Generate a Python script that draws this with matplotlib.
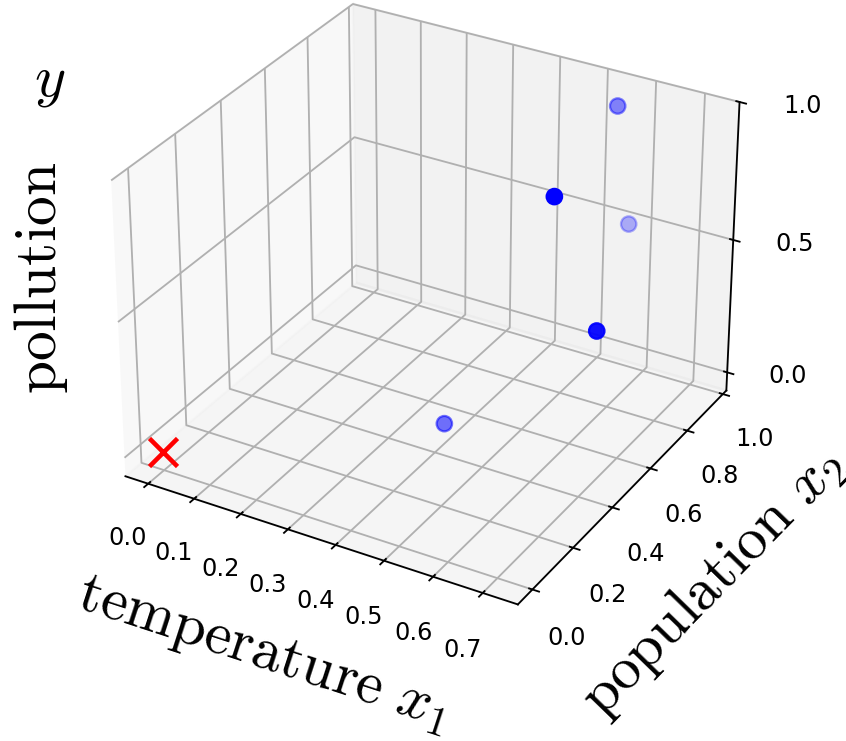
import numpy as np
import matplotlib
matplotlib.use("Agg")
import matplotlib.pyplot as plt

plt.rcParams["mathtext.fontset"] = "cm"

# data: temperature x1, population x2, pollution y
temperature = [0.42, 0.60, 0.53, 0.56, 0.71]
population = [0.40, 0.50, 1.00, 1.00, 0.45]
pollution = [0.05, 0.90, 0.89, 0.47, 0.51]

# query point
query_temperature = [0.0]
query_population = [0.0]
query_pollution = [0.0]

x_ticks = [0.0, 0.1, 0.2, 0.3, 0.4, 0.5, 0.6, 0.7]
y_ticks = [0.0, 0.2, 0.4, 0.6, 0.8, 1.0]
z_ticks = [0.0, 0.5, 1.0]

DPI = 165
fig = plt.figure(figsize=(846 / DPI, 741 / DPI), dpi=DPI)
ax = fig.add_axes([0.0859, 0.1248, 0.8258, 0.9428], projection="3d")

ax.scatter(temperature, population, pollution, color="blue", s=45)
ax.scatter(query_temperature, query_population, query_pollution,
           color="red", marker="x", s=150, linewidths=2)

ax.set_xlim(-0.05, 0.77)
ax.set_ylim(-0.07, 1.02)
ax.set_zlim(-0.07, 1.0)
ax.set_xticks(x_ticks)
ax.set_yticks(y_ticks)
ax.set_zticks(z_ticks)
ax.tick_params(labelsize=10.5)
ax.tick_params(axis="x", pad=5.5)
ax.tick_params(axis="y", pad=5.5)
ax.tick_params(axis="z", pad=8.5)

ax.set_xlabel(r"$\mathrm{temperature}\ x_1$", fontsize=26, labelpad=14)
ax.set_ylabel(r"$\mathrm{population}\ x_2$", fontsize=26, labelpad=14)
# z axis drawn on the right hand edge
ax.zaxis.set_ticks_position("upper")

fig.text(0.048, 0.625, r"$\mathrm{pollution}$", rotation=90, fontsize=26,
         ha="center", va="center")
fig.text(0.059, 0.893, r"$y$", fontsize=26, ha="center", va="center")

fig.savefig("out.png", dpi=DPI)
